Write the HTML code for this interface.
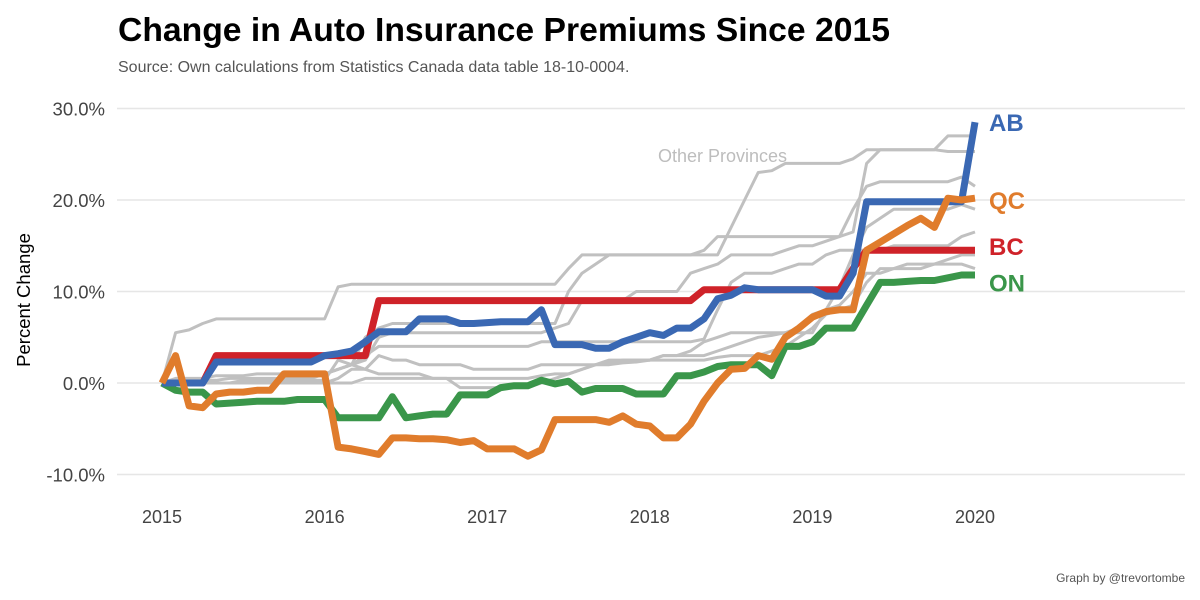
<!DOCTYPE html>
<html><head><meta charset="utf-8"><style>
body{margin:0;background:#fff;font-family:"Liberation Sans",sans-serif}
svg{display:block}
</style></head><body>
<svg id="chart" width="1200" height="600">
<text x="118" y="41" font-size="33.7" font-weight="bold" fill="#000">Change in Auto Insurance Premiums Since 2015</text>
<text x="118" y="72" font-size="16" fill="#555">Source: Own calculations from Statistics Canada data table 18-10-0004.</text>
<text transform="translate(30,300) rotate(-90)" text-anchor="middle" font-size="18.5" fill="#000">Percent Change</text>
<text x="1185" y="582" text-anchor="end" font-size="12" fill="#555">Graph by @trevortombe</text>
<g id="grid"></g><g id="gray"></g><g id="main"></g><g id="labels"></g>
</svg>
<script>
const yTicks=[-10,0,10,20,30];
const yTickLabels=["-10.0%","0.0%","10.0%","20.0%","30.0%"];
const xYears=[2015,2016,2017,2018,2019,2020];
const BC=[0,0,0,0,3,3,3,3,3,3,3,3,3,3,3,3,9,9,9,9,9,9,9,9,9,9,9,9,9,9,9,9,9,9,9,9,9,9,9,9,10.2,10.2,10.2,10.2,10.2,10.2,10.2,10.2,10.2,10.2,10.2,12.5,14.5,14.5,14.5,14.5,14.5,14.5,14.5,14.5,14.5];
const AB=[0,0,0,0,2.3,2.3,2.3,2.3,2.3,2.3,2.3,2.3,3,3.2,3.5,4.5,5.6,5.6,5.6,7,7,7,6.5,6.5,6.6,6.7,6.7,6.7,8,4.2,4.2,4.2,3.8,3.8,4.5,5,5.5,5.2,6,6,7,9.2,9.6,10.4,10.2,10.2,10.2,10.2,10.2,9.5,9.5,12,19.8,19.8,19.8,19.8,19.8,19.8,19.8,19.8,28.5];
const QC=[0,3,-2.5,-2.7,-1.2,-1,-1,-0.8,-0.8,1,1,1,1,-7,-7.2,-7.5,-7.8,-6,-6,-6.1,-6.1,-6.2,-6.5,-6.3,-7.2,-7.2,-7.2,-8,-7.3,-4,-4,-4,-4,-4.3,-3.6,-4.5,-4.7,-6,-6,-4.5,-2,0,1.5,1.6,3,2.6,5,6,7.2,7.8,8,8,14.5,15.4,16.3,17.2,18,17,20.2,20,20.2];
const ON=[0,-0.8,-1,-1,-2.3,-2.2,-2.1,-2,-2,-2,-1.8,-1.8,-1.8,-3.8,-3.8,-3.8,-3.8,-1.5,-3.8,-3.6,-3.4,-3.4,-1.3,-1.3,-1.3,-0.5,-0.3,-0.3,0.3,-0.1,0.2,-1,-0.6,-0.6,-0.6,-1.2,-1.2,-1.2,0.8,0.8,1.2,1.8,2,2,2,0.8,4,4,4.5,6,6,6,8.5,11,11,11.1,11.2,11.2,11.5,11.8,11.8];
const G1=[0,5.5,5.8,6.5,7,7,7,7,7,7,7,7,7,10.5,10.8,10.8,10.8,10.8,10.8,10.8,10.8,10.8,10.8,10.8,10.8,10.8,10.8,10.8,10.8,10.8,12.5,14,14,14,14,14,14,14,14,14,14,14,17,20,23,23.2,24,24,24,24,24,24.5,25.5,25.5,25.5,25.5,25.5,25.5,25.3,25.3,25.3];
const G2=[0,0.5,0.5,0.5,0.8,0.8,0.8,1,1,1,1,1,1,1.5,2,5,6,6.5,6.5,6.5,6.5,6.5,6.5,6.5,6.5,6.5,6.5,6.5,6.5,6.5,10,12,13,14,14,14,14,14,14,14,14.5,16,16,16,16,16,16,16,16,16,16,16.5,24,25.5,25.5,25.5,25.5,25.5,27,27,27];
const G3=[0,0,0,0.3,0.3,0.5,0.5,0.5,0.5,0.5,0.5,0.8,1,1.5,2,2.5,5,5.5,5.5,5.5,5.5,5.5,5.5,5.5,5.5,5.5,5.5,5.5,5.5,6,6.5,9,9,9,9,10,10,10,10,12,12.5,13,14,14,14,14,14.5,15,15,15.5,16,19,21.5,22,22,22,22,22,22,22.5,21.5];
const G4=[0,0,0,0,0,0,0,0.3,0.3,0.5,0.5,0.5,1,1.5,2,3,4,4,4,4,4,4,4,4,4,4,4,4,4.5,4.5,4.5,4.5,4.5,4.5,4.5,4.5,4.5,4.5,4.5,4.5,4.8,8,11,12,12,12,12.5,13,13,14,14.5,14.5,14.5,14.5,15,15,15,15,15,16,16.5];
const G5=[0,0,0,0,0,0,0,0,0,0,0,0,0,0.5,1.5,1.5,3,2.5,2.5,2,2,2,2,1.5,1.5,1.5,1.5,1.5,2,2,2,2,2,2,2.2,2.3,2.5,3,3,3.5,4.5,5,5.5,5.5,5.5,5.5,5.5,6,7.5,8,8.5,10,12,12,12.5,12.5,12.5,13,13,13,12.5];
const G6=[0,0,0,0,0,0,0,0,0,0,0,0,0,0,0,0.5,0.5,0.5,0.5,0.5,0.5,0.5,0.5,0.5,0.5,0.5,0.5,0.5,0.8,1,1,1.5,2,2.5,2.5,2.5,2.5,3,3,3,3,3.5,4,4.5,5,5.2,5.5,5.5,5.5,8,10.5,14,17,18,19,19,19,19,19,19.5,19];
const G7=[0,0,0,0,0,0,0.3,0.3,0.3,0.3,0.3,0.3,0.3,2.5,2,1.5,1,1,1,1,0.5,0.5,-0.5,-0.5,-0.5,-0.5,-0.5,-0.5,0,0.5,1,1.5,2,2.2,2.5,2.5,2.5,2.5,2.5,2.5,2.5,2.8,3,3,3,3.5,4,5,6,7.5,8,8.5,11,12.5,12.5,13,13,13,13.5,14,14];

const NS='http://www.w3.org/2000/svg';
const x=m=>162+m*(813/60);
const xYear=yr=>162+(yr-2015)*162.6;
const y=v=>383-v*9.15;
function mk(tag,attrs,parent){const e=document.createElementNS(NS,tag);for(const k in attrs)e.setAttribute(k,attrs[k]);parent.appendChild(e);return e;}
const grid=document.getElementById('grid');
yTicks.forEach((t,i)=>{
  const l=mk('line',{x1:117,x2:1185,y1:y(t),y2:y(t),stroke:'#e6e6e6','stroke-width':1.5},grid);
  
  
  const tx=mk('text',{x:105,y:y(t)+7,'text-anchor':'end','font-size':18.5,fill:'#444'},grid);
  tx.textContent=yTickLabels[i];
  
  
});
xYears.forEach(yr=>{
  const tx=mk('text',{x:xYear(yr),y:523,'text-anchor':'middle','font-size':18,fill:'#444'},grid);
  tx.textContent=yr;
  
  
});
const pts=a=>a.map((v,i)=>x(i).toFixed(1)+','+y(v).toFixed(1)).join(' ');
const gray=document.getElementById('gray');
[G1,G2,G3,G4,G5,G6,G7].forEach(s=>{
  const p=mk('polyline',{points:pts(s),fill:'none',stroke:'#c0c0c0','stroke-width':3,'stroke-linejoin':'round'},gray);
  
  
});
const main=document.getElementById('main');
const series=[['BC',BC,'#cf2229','bc-line'],['AB',AB,'#3a68b3','ab-line'],['QC',QC,'#e07c2c','qc-line'],['ON',ON,'#3a964a','on-line']];
const order=[series[0],series[3],series[1],series[2]];
order.forEach(s=>{
  const p=mk('polyline',{points:pts(s[1]),fill:'none',stroke:s[2],'stroke-width':7,'stroke-linejoin':'round'},main);
  
  
});
const labels=document.getElementById('labels');
const labelY={AB:28.5,QC:20,BC:15,ON:11};
series.forEach(s=>{
  const t=mk('text',{x:989,y:y(labelY[s[0]])+9,'font-size':24,'font-weight':'bold',fill:s[2]},labels);
  t.textContent=s[0];
  
  
});
const op=mk('text',{x:658,y:162,'font-size':18,fill:'#bdbdbd'},labels);
op.textContent='Other Provinces';


</script>
</body></html>
